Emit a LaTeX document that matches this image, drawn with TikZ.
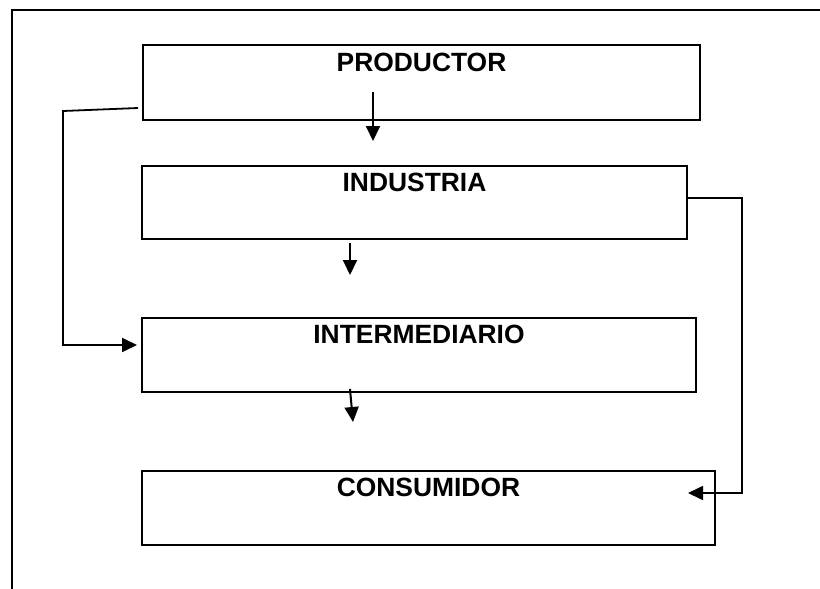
\documentclass[tikz,border=0pt]{standalone}
\usepackage{fontspec}
\setmainfont{Liberation Sans}
\usetikzlibrary{arrows.meta}
\begin{document}
\begin{tikzpicture}[x=1pt,y=-1pt,
  box/.style={draw, line width=2.4pt, inner sep=0pt, text height=19pt, text depth=42pt,
    minimum height=74pt, font=\fontsize{26.4}{30}\selectfont\bfseries},
  conn/.style={line width=2pt, -{Triangle[length=15pt,width=14pt]}},
  frame/.style={line width=2.4pt}]
\useasboundingbox (0,0) rectangle (820,589);
\draw[frame] (12,589) -- (12,10) -- (820,10);
\node[box, minimum width=557pt, minimum height=75pt] (P) at (421.5,82.5) {PRODUCTOR};
\node[box, minimum width=545pt, minimum height=73pt] (I) at (414.5,202.5) {INDUSTRIA};
\node[box, minimum width=554pt] (M) at (419,355) {INTERMEDIARIO};
\node[box, minimum width=573pt] (C) at (428.5,508) {CONSUMIDOR};
\coordinate (a1) at (373,92);
\coordinate (a2) at (373,141);
\coordinate (b1) at (350,243);
\coordinate (b2) at (350,275);
\coordinate (c1) at (350,389);
\coordinate (c2) at (353,422);
\coordinate (l1) at (138,108);
\coordinate (l2) at (63,111);
\coordinate (l3) at (137,345);
\coordinate (r1) at (742,198);
\coordinate (r2) at (688,493);
\draw[conn] (a1) -- (a2);
\draw[conn] (b1) -- (b2);
\draw[conn] (c1) -- (c2);
\draw[conn, line width=1.8pt] (l1) -- (l2) |- (l3);
\draw[conn, line width=1.7pt] (I.east |- r1) -- (r1) |- (r2);
\end{tikzpicture}
\end{document}
